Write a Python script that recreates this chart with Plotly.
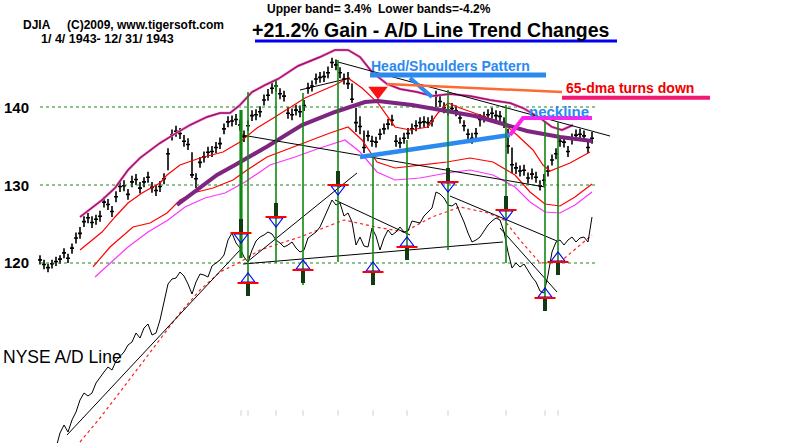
import plotly.graph_objects as go

# ---------------- DATA ----------------
# DJIA 1943 bars (trading-bar index 0..138)
close = [120.4,119.8,119.4,119.9,120.2,120.5,121.3,120.6,121.9,123.2,
         123.8,125.3,125.8,125.2,125.6,126.0,127.8,127.5,126.6,128.5,
         129.8,129.9,128.8,130.4,130.7,129.6,130.4,131.0,129.7,129.3,
         129.8,130.8,134.0,136.4,136.9,136.6,135.6,135.2,131.3,130.8,
         132.9,133.6,134.2,134.3,134.8,135.3,137.2,138.1,138.2,138.4,
         137.7,136.2,137.6,138.9,139.0,139.4,140.9,141.5,142.4,142.7,
         141.7,141.4,139.2,139.0,139.6,139.4,140.2,142.4,142.7,143.6,
         143.8,143.9,144.4,145.7,145.4,144.4,143.6,143.0,141.0,138.0,
         137.5,134.8,136.3,135.6,135.5,136.5,137.2,137.8,138.3,135.6,
         135.4,136.0,136.6,137.2,137.6,138.0,138.1,138.0,138.2,141.4,
         140.7,139.9,139.6,139.8,139.5,138.6,137.6,136.5,136.0,136.6,
         138.4,138.7,139.0,139.2,138.9,138.8,138.0,135.0,132.6,132.2,
         131.8,131.9,130.9,131.4,131.0,129.9,130.6,131.8,133.2,134.0,
         135.6,135.5,134.3,135.9,136.4,136.5,136.3,134.8,136.0]
high = [121.0,120.4,119.9,120.4,120.8,121.0,121.9,121.2,122.5,123.9,
        124.6,126.0,126.4,126.0,126.2,126.7,128.5,128.2,127.3,129.2,
        130.5,130.6,129.5,131.2,131.4,130.4,131.0,131.7,130.4,130.0,
        130.5,131.5,134.7,137.1,137.6,137.3,136.4,136.0,134.2,131.5,
        133.6,134.3,134.9,135.0,135.5,136.1,137.9,138.8,138.9,139.1,
        138.4,137.0,138.3,139.6,139.7,140.1,141.6,142.3,143.1,143.4,
        142.4,142.1,140.0,139.8,140.3,140.2,140.9,143.1,143.4,144.3,
        144.5,144.6,145.2,146.3,146.1,145.1,144.3,144.5,143.0,139.9,
        138.8,137.0,137.0,136.3,136.2,137.2,137.9,138.5,139.0,136.4,
        136.1,136.7,137.3,137.9,138.3,138.7,138.8,138.7,138.9,142.1,
        141.4,140.6,140.3,140.5,140.2,139.3,138.3,137.2,136.7,137.3,
        139.1,139.4,139.7,139.9,139.6,139.5,138.7,137.2,134.8,132.9,
        132.5,132.6,131.6,132.1,131.7,130.6,131.4,132.5,133.9,134.7,
        136.3,136.2,135.0,136.6,137.1,137.2,137.0,135.5,136.8]
low = [119.8,119.2,118.8,119.3,119.6,119.9,120.6,120.0,121.2,122.5,
       123.1,124.6,125.1,124.5,124.9,125.3,127.1,126.8,125.9,127.8,
       129.1,129.2,128.1,129.7,130.0,128.9,129.7,130.3,129.0,128.6,
       129.1,130.1,131.9,135.7,136.2,135.9,134.9,134.5,130.9,129.6,
       132.2,132.9,133.5,133.6,134.1,134.6,136.5,137.4,137.5,137.7,
       137.0,135.5,136.9,138.2,138.3,138.7,140.2,140.8,141.7,142.0,
       141.0,140.7,138.5,138.3,138.9,138.7,139.5,141.7,142.0,142.9,
       143.1,143.2,143.7,145.0,144.7,143.7,142.9,142.3,140.5,136.8,
       136.5,134.1,135.6,134.9,134.8,135.8,136.5,137.1,137.6,134.9,
       134.7,135.3,135.9,136.5,136.9,137.3,137.4,137.3,137.5,140.0,
       140.0,139.2,138.9,139.1,138.8,137.9,136.9,135.8,135.3,135.9,
       137.5,138.0,138.3,138.5,138.2,138.1,137.3,134.0,131.5,131.4,
       131.1,131.2,130.2,130.7,130.3,129.3,129.9,131.1,132.5,133.3,
       134.9,134.8,133.6,135.2,135.7,135.8,135.6,134.1,135.3]
bar_day = list(range(len(close)))

# Bands (day index, price)
upper_day = [10,15.5,18.75,22,25,30,33.25,37.5,41.75,45,47.5,50,53,56.25,59.5,64.5,70,73.75,77,80,
             83,86.75,90,94.25,98,102.5,107.5,112.5,117.5,120.75,125,128,130.5,133.25]
upper_val = [125.90,128.08,129.62,131.92,133.46,135.38,136.41,137.69,138.72,139.23,139.23,140.26,141.92,
             142.82,143.59,145.26,146.41,147.31,147.31,146.41,144.49,142.95,142.31,141.92,141.41,141.67,
             141.41,140.90,140.51,139.87,138.59,137.44,137.05,137.69]
ma21_day = [10,15.5,18.75,22,25.5,30,31.75,35,40,45.75,50,54.25,58.75,66.25,73.75,77,80.5,84.5,88.75,92.5,
            97,99.5,102,105,110,115.75,119.25,123.25,125.75,127.5,132.5,137.5]
ma21_val = [121.67,123.97,125.90,127.69,128.97,130.26,131.28,132.56,133.46,134.23,135.51,137.31,138.72,
            141.15,142.82,143.72,142.44,140.51,137.44,137.05,137.44,139.23,140.51,139.87,138.97,137.95,
            136.41,134.49,132.56,131.79,132.82,134.23]
lower_day = [13.25,17.5,23.25,27.5,31.75,35,38.25,43.25,48.25,51.75,56.75,62.5,67.5,72.5,77,80.5,84.25,
             88.75,95,101.75,107.5,113.25,118.75,122.5,126.25,130,133.75,138]
lower_val = [119.49,122.05,124.62,125.13,126.41,128.08,128.97,129.62,130.64,131.92,133.59,134.74,135.77,
             136.67,137.44,135.77,132.95,132.18,132.56,132.95,133.46,132.95,131.28,129.10,127.56,127.31,
             128.46,130.13]
lower2_day = [13.75,22,27,32,36.25,41.25,46.25,51.25,57.5,63.75,70,76.25,80,84.25,88.75,95,101.75,107.5,
              113.25,118.75,122.5,126.25,130,133.75,138]
lower2_val = [118.21,122.05,123.97,125.51,127.18,128.33,128.97,130.38,132.56,133.59,134.74,135.77,134.23,
              131.67,130.64,130.90,131.54,131.92,131.28,129.74,127.82,126.54,126.41,127.44,129.10]
ma65_day = [34.25,39.25,44.25,48.75,57,65.5,73.75,81.25,84.5,93,101.25,108.75,115.75,121.75,130,138]
ma65_val = [127.44,129.36,131.28,132.56,135.00,137.69,139.36,140.64,140.77,140.26,139.49,138.85,137.82,
            136.92,136.15,135.64]

# NYSE A/D line (arbitrary units), one value per bar from bar 4
ad_day = list(range(4, 139))
ad_val = [-5,10,18,11,23,31,43,50,47,50,60,66,71,76,73,82,86,91,98,101,110,105,115,119,108,110,123,140,
          159,164,165,171,167,159,149,161,169,168,166,177,180,183,188,203,210,200,195,186,181,193,202,
          206,208,211,209,203,200,196,198,201,195,191,193,205,208,211,216,225,233,243,238,240,227,230,
          221,198,206,197,196,215,207,193,205,213,208,211,216,211,212,222,221,220,227,231,235,251,249,
          245,238,237,240,230,221,210,201,203,206,212,218,222,225,223,211,191,175,180,176,179,172,166,
          161,152,150,168,191,201,203,198,203,206,201,205,206,201,226]
ad_ma_day = [10,15,20,25,30,35,40,45,50,55,65,76,84,91,98,105,112,116,120,125,130,138]
ad_ma_val = [1,25,51,77,103,130,153,171,181,193,206,223,216,211,226,236,230,223,203,180,181,208]

# Trend lines
price_tl_day = [[50.5,126.25],[74.5,142.5],[65,77.5]]
price_tl_val = [[136.41,129.74],[145.77,136.28],[142.18,143.72]]
ad_tl_day = [[6.75,50],[51.75,79.25],[50.75,115.75],[73.75,92.5],[102.5,129.25],[115,129.25]]
ad_tl_val = [[8,193],[181,270],[179,201],[243,208],[247,202],[215,151]]

# A/D trend-change signals
sig_day = [50.25,52,59,65.75,74.5,83.25,91.75,102,116.5,126.25,129.5]
sig_top = [333,351,363,350,383,286,303,353,338,321,321]
sig_bottom = [185,148,180,158,181,158,183,193,180,138,170]
sig_type = ['sell','buy','sell','buy','sell','buy','buy','sell','sell','buy','buy']
sig_level = [210,160,226,173,258,171,196,261,233,145,181]

# Chart annotation lines (day, price)
neck_day = [80,117.5]
neck_val = [133.59,136.41]
neck2_day = [117.5,120.75,138]
neck2_val = [136.41,138.59,138.59]
hs_ul_day = [82.5,126.5]
hs_ul_val = [144.1,144.1]
hs_ptr_day = [92.5,98]
hs_ptr_val = [143.72,141.28]
dma_ptr_day = [86.75,130.5]
dma_ptr_val = [142.95,141.92]
dma_ul_day = [130.5,167.5]
dma_ul_val = [141.2,141.2]
turn_day = [84.5]
turn_val = [142.05]

tick_vals = [120,130,140]
tick_text = ['120','130','140']

# ---------------- FIGURE ----------------
fig = go.Figure()
FONT = 'Liberation Sans, Arial, sans-serif'

def segs(days, vals):
    xs, ys = [], []
    for d, v in zip(days, vals):
        xs += list(d) + [None]
        ys += list(v) + [None]
    return xs, ys

def line(x, y, color, width, dash=None, yaxis='y'):
    fig.add_trace(go.Scatter(x=x, y=y, mode='lines', yaxis=yaxis, hoverinfo='skip',
                             line=dict(color=color, width=width, dash=dash), showlegend=False))

# grid lines
gx, gy = segs([[0, 139.5]] * len(tick_vals), [[t, t] for t in tick_vals])
line(gx, gy, '#1a8a1a', 1.2, 'dot')

# bands
line(lower2_day, lower2_val, '#ff33ff', 1.2)
line(lower_day, lower_val, '#ff0000', 1.2)
line(ma21_day, ma21_val, '#ff0000', 1.2)
line(upper_day, upper_val, '#f080c8', 2.6)
line(upper_day, upper_val, '#a0106a', 1.4)
line(ma65_day, ma65_val, '#7d2580', 4)

# price trend lines
tx, ty = segs(price_tl_day, price_tl_val)
line(tx, ty, 'black', 1)

# OHLC bars
fig.add_trace(go.Ohlc(x=bar_day, open=close, high=high, low=low, close=close,
                      increasing=dict(line=dict(color='black', width=1.6)),
                      decreasing=dict(line=dict(color='black', width=1.6)),
                      tickwidth=0.5, hoverinfo='skip', showlegend=False))

# A/D
line(ad_ma_day, ad_ma_val, '#ff2020', 1.2, 'dot', 'y2')
line(ad_day, ad_val, 'black', 1, None, 'y2')
ax, ay = segs(ad_tl_day, ad_tl_val)
line(ax, ay, 'black', 1, None, 'y2')

# green vertical lines
gx, gy = segs([[d, d] for d in sig_day[1:]], [[b, t] for b, t in zip(sig_bottom[1:], sig_top[1:])])
line(gx, gy, '#118811', 1.6, None, 'y2')
line([sig_day[0]] * 2, [sig_bottom[0], sig_top[0]], '#118811', 3.2, None, 'y2')

# signal bars
bx, by = [], []
for d, t, lv in zip(sig_day, sig_type, sig_level):
    bx += [d, d, None]
    by += ([lv + 1, lv + 14, None] if t == 'sell' else [lv - 1, lv - 13, None])
line(bx, by, '#143a14', 4, None, 'y2')

# arrow triangles + red bars
sells = [(d, lv) for d, t, lv in zip(sig_day, sig_type, sig_level) if t == 'sell']
buys = [(d, lv) for d, t, lv in zip(sig_day, sig_type, sig_level) if t == 'buy']
fig.add_trace(go.Scatter(x=[s[0] for s in sells], y=[s[1] - 4 for s in sells], yaxis='y2', mode='markers',
                         marker=dict(symbol='triangle-down', size=12, color='rgba(255,255,255,0)',
                                     line=dict(color='#0000ff', width=1.2)), hoverinfo='skip', showlegend=False))
fig.add_trace(go.Scatter(x=[s[0] for s in buys], y=[s[1] + 4 for s in buys], yaxis='y2', mode='markers',
                         marker=dict(symbol='triangle-up', size=12, color='rgba(255,255,255,0)',
                                     line=dict(color='#0000ff', width=1.2)), hoverinfo='skip', showlegend=False))
fig.add_trace(go.Scatter(x=sig_day, y=sig_level, yaxis='y2', mode='markers',
                         marker=dict(symbol='line-ew', size=15, line=dict(color='#ff0000', width=2)),
                         hoverinfo='skip', showlegend=False))
# date ticks at the bottom
fig.add_trace(go.Scatter(x=sig_day, y=[30] * len(sig_day), yaxis='y2', mode='markers',
                         marker=dict(symbol='line-ns', size=4, line=dict(color='#c8d4c8', width=1)),
                         hoverinfo='skip', showlegend=False))

# chart annotation lines
line(neck_day, neck_val, '#2a8af0', 4.5)
line(neck2_day, neck2_val, '#ff22ee', 4)
line(hs_ul_day, hs_ul_val, '#2a8af0', 5)
line(hs_ptr_day, hs_ptr_val, '#2a8af0', 4)
line(dma_ptr_day, dma_ptr_val, '#ff6a30', 2.5)
line(dma_ul_day, dma_ul_val, '#f01870', 4)
fig.add_trace(go.Scatter(x=turn_day, y=turn_val, mode='markers',
                         marker=dict(symbol='triangle-down', size=17, color='#ff1010', line=dict(width=0)),
                         hoverinfo='skip', showlegend=False))

# ---------------- TEXT ----------------
def px(x):
    return x / 800.0

def py(y):
    return 1 - y / 443.0

def text(x, y, s, size, color='black', bold=True, anchor='left'):
    fig.add_annotation(x=px(x), y=py(y), xref='paper', yref='paper', text=('<b>%s</b>' % s) if bold else s,
                       showarrow=False, xanchor=anchor, yanchor='middle',
                       font=dict(family=FONT, size=size, color=color))

text(265, 9, 'Upper band= 3.4%\u00a0\u00a0Lower bands=-4.2%', 12)
text(21, 25, 'DJIA\u00a0\u00a0\u00a0\u00a0\u00a0(C)2009, www.tigersoft.com', 12)
text(39, 39, '1/ 4/ 1943- 12/ 31/ 1943', 12.5)
text(250, 30, '+21.2% Gain - A/D Line Trend Changes', 19.5)
text(369, 66, 'Head/Shoulders Pattern', 14, '#2a8af0')
text(564, 88, '65-dma turns down', 14, '#f00000')
text(527, 111, 'neckline', 15, '#2a8af0')
text(1, 357, 'NYSE A/D Line', 17.5, bold=False)
fig.add_shape(type='line', xref='paper', yref='paper', x0=px(255), x1=px(617), y0=py(41), y1=py(41),
              line=dict(color='#0000ee', width=3))
for v, t in zip(tick_vals, tick_text):
    fig.add_annotation(x=px(16), y=v, xref='paper', yref='y', text='<b>%s</b>' % t, showarrow=False,
                       xanchor='center', yanchor='middle', font=dict(family=FONT, size=15, color='black'))

fig.update_layout(width=800, height=443, margin=dict(l=0, r=0, t=0, b=0),
                  paper_bgcolor='white', plot_bgcolor='white', showlegend=False,
                  xaxis=dict(range=[-10, 190], visible=False, rangeslider=dict(visible=False), fixedrange=True),
                  yaxis=dict(range=[96.92, 153.72], visible=False, fixedrange=True),
                  yaxis2=dict(range=[0, 443], overlaying='y', visible=False, fixedrange=True))

fig.write_html('out.html', config={'displayModeBar': False})
